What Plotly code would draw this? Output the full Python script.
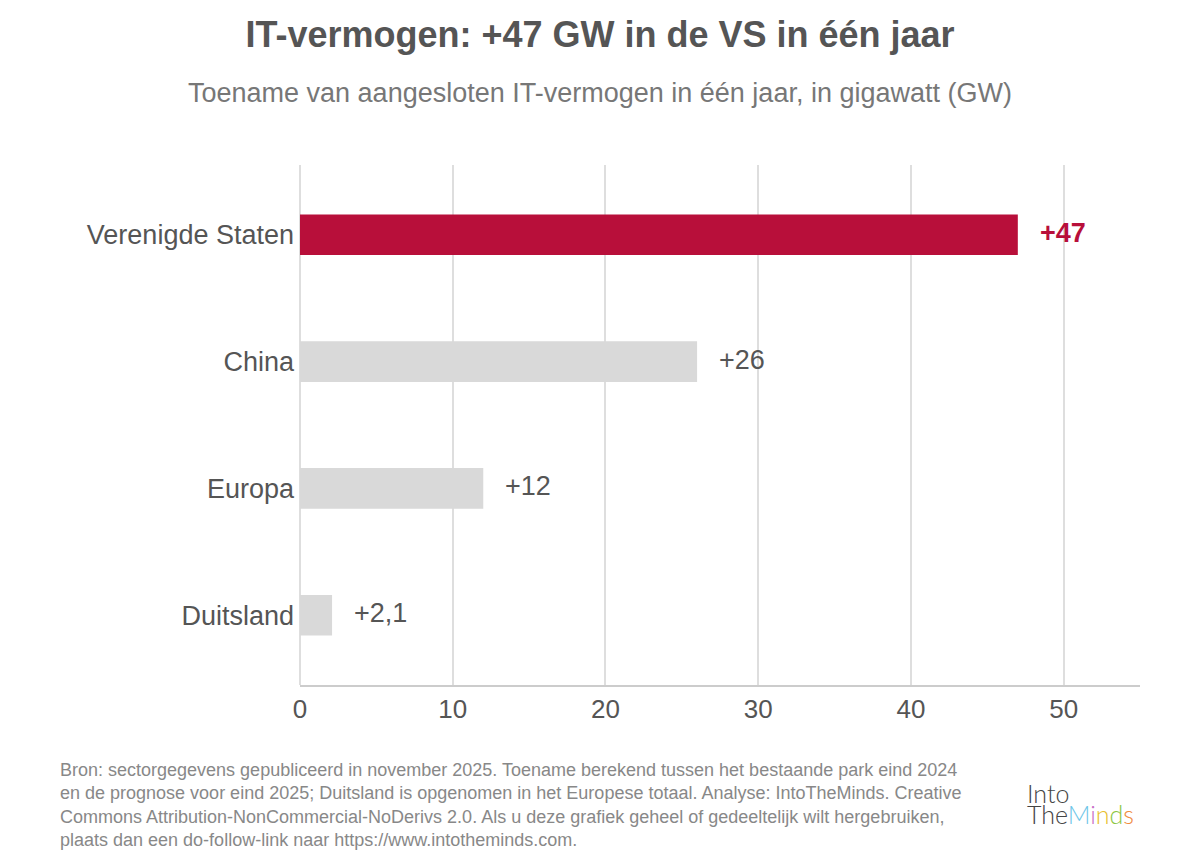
import plotly.graph_objects as go

# data
countries = ["Verenigde Staten", "China", "Europa", "Duitsland"]
growth_gw = [47, 26, 12, 2.1]
value_labels = ["+47", "+26", "+12", "+2,1"]
x_ticks = [0, 10, 20, 30, 40, 50]

INK = "#555555"; SUB = "#777777"; GRID = "#dedede"
RED = "#b80f3a"; GREY = "#d9d9d9"
FONT = "Liberation Sans, Arial, sans-serif"

colors = [RED if c == "Verenigde Staten" else GREY for c in countries]

fig = go.Figure()
fig.add_trace(go.Bar(
    y=countries, x=growth_gw, orientation="h", width=0.32,
    marker=dict(color=colors, line=dict(width=0)),
    hoverinfo="skip", showlegend=False))

# value labels just past the bar ends
for c, v, t in zip(countries, growth_gw, value_labels):
    bold = c == "Verenigde Staten"
    fig.add_annotation(x=v, y=c, text=f"<b>{t}</b>" if bold else t, showarrow=False,
                       xanchor="left", xshift=20, yshift=2,
                       font=dict(size=27, color=RED if bold else INK, family=FONT))

fig.update_layout(
    width=1200, height=867, template="plotly_white",
    paper_bgcolor="white", plot_bgcolor="white",
    font=dict(family=FONT, color=INK, size=27),
    margin=dict(l=300, r=60, t=165, b=182),
    title=dict(text="<b>IT-vermogen: +47 GW in de VS in één jaar</b>",
               x=0.5, xanchor="center", y=0.96, yanchor="middle",
               font=dict(size=36, color=INK)),
    bargap=0.68,
)
PW = 840; PH = 520
fig.add_annotation(text="Toename van aangesloten IT-vermogen in één jaar, in gigawatt (GW)",
                   xref="paper", yref="paper", x=(600 - 300) / PW, y=(685 - 93) / PH,
                   xanchor="center", yanchor="middle",
                   showarrow=False, font=dict(size=27, color=SUB))

footer = ("Bron: sectorgegevens gepubliceerd in november 2025. Toename berekend tussen het bestaande park eind 2024<br>"
          "en de prognose voor eind 2025; Duitsland is opgenomen in het Europese totaal. Analyse: IntoTheMinds. Creative<br>"
          "Commons Attribution-NonCommercial-NoDerivs 2.0. Als u deze grafiek geheel of gedeeltelijk wilt hergebruiken,<br>"
          "plaats dan een do-follow-link naar https://www.intotheminds.com.")
fig.add_annotation(text=footer, xref="paper", yref="paper",
                   x=(58 - 300) / PW, y=(685 - 758) / PH, xanchor="left", yanchor="top",
                   align="left", showarrow=False, font=dict(size=18, color="#888888"))

# logo as text
LOGO_FONT = "Lato, Liberation Sans, sans-serif"
fig.add_annotation(text="Into", xref="paper", yref="paper",
                   x=(1026 - 300) / PW, y=(685 - 809) / PH, xanchor="left", yanchor="bottom",
                   showarrow=False, borderpad=0,
                   font=dict(size=25, color="#444444", family=LOGO_FONT, weight=300))
fig.add_annotation(text="The<span style='color:#6ec6e8'>M</span><span style='color:#c86ec8'>i</span>"
                        "<span style='color:#e8c030'>n</span><span style='color:#8cc63f'>d</span>"
                        "<span style='color:#f08a3c'>s</span>",
                   xref="paper", yref="paper", x=(1026 - 300) / PW, y=(685 - 798) / PH,
                   xanchor="left", yanchor="top", showarrow=False, borderpad=0,
                   font=dict(size=25, color="#444444", family=LOGO_FONT, weight=300))

fig.update_xaxes(range=[0, 55], tickvals=x_ticks, showgrid=True, gridcolor=GRID, gridwidth=2,
                 zeroline=True, zerolinecolor=GRID, zerolinewidth=2,
                 showline=True, linecolor="#cccccc", linewidth=2,
                 ticks="", tickfont=dict(size=26, color=INK))
fig.update_yaxes(autorange=False, range=[3.55, -0.55], categoryorder="array", categoryarray=countries,
                 showgrid=False, ticks="", ticklabelstandoff=5, tickfont=dict(size=27, color=INK))

fig.write_html("out.html", config={"displayModeBar": False},
               post_script="document.body.style.margin='0';")
